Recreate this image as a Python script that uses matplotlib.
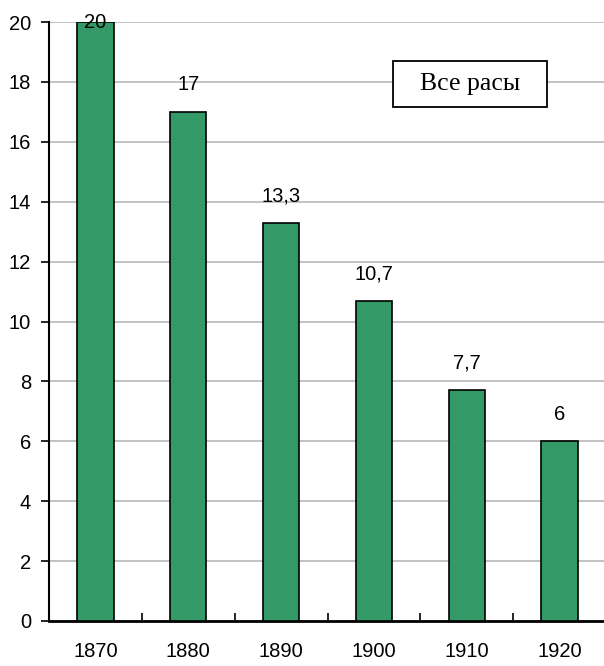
import numpy as np
import matplotlib.pyplot as plt
from matplotlib.patches import Rectangle

years = ['1870', '1880', '1890', '1900', '1910', '1920']
values = [20, 17, 13.3, 10.7, 7.7, 6]
labels = ['20', '17', '13,3', '10,7', '7,7', '6']

plt.rcParams['font.family'] = ['Liberation Sans', 'DejaVu Sans']

fig = plt.figure(figsize=(6.04, 6.66), dpi=100)
ax = fig.add_axes([49 / 604, 45 / 666, 557 / 604, 599 / 666])

x = np.arange(len(years))
ax.bar(x, values, width=0.39, color='#339966', edgecolor='black', linewidth=1.2, zorder=3)

for xi, v, lab in zip(x, values, labels):
    ax.text(xi, min(v + 0.9, 20), lab, ha='center', va='center', fontsize=14.5, zorder=4)

ax.set_xlim(-0.5, len(years) - 0.5)
ax.set_ylim(0, 20)
ax.set_yticks(np.arange(0, 21, 2))
ax.yaxis.grid(True, color='#b8b8b8', linewidth=1.2, zorder=0)

ax.set_xticks(np.arange(-0.5, len(years), 1), minor=False)
ax.set_xticklabels([])
ax.set_xticks(x, minor=True)
ax.set_xticklabels(years, minor=True)
ax.tick_params(axis='x', which='minor', length=0, pad=15, labelsize=14.5)
ax.tick_params(axis='x', which='major', length=6, width=1.2, direction='in')
ax.tick_params(axis='y', length=6, width=1.2, direction='out', labelsize=14.5, pad=7)

for s in ['top', 'right']:
    ax.spines[s].set_visible(False)
ax.spines['left'].set_linewidth(1.5)
ax.spines['bottom'].set_linewidth(2)

# legend-like box
ax.add_patch(Rectangle((0.6176, 0.858), 0.2764, 0.077, transform=ax.transAxes,
                       facecolor='white', edgecolor='black', linewidth=1.3, zorder=5))
ax.text(0.756, 0.8965, 'Все расы', transform=ax.transAxes, ha='center', va='center',
        fontsize=18.5, family='Liberation Serif', zorder=6)

plt.savefig('out.png', dpi=100)
